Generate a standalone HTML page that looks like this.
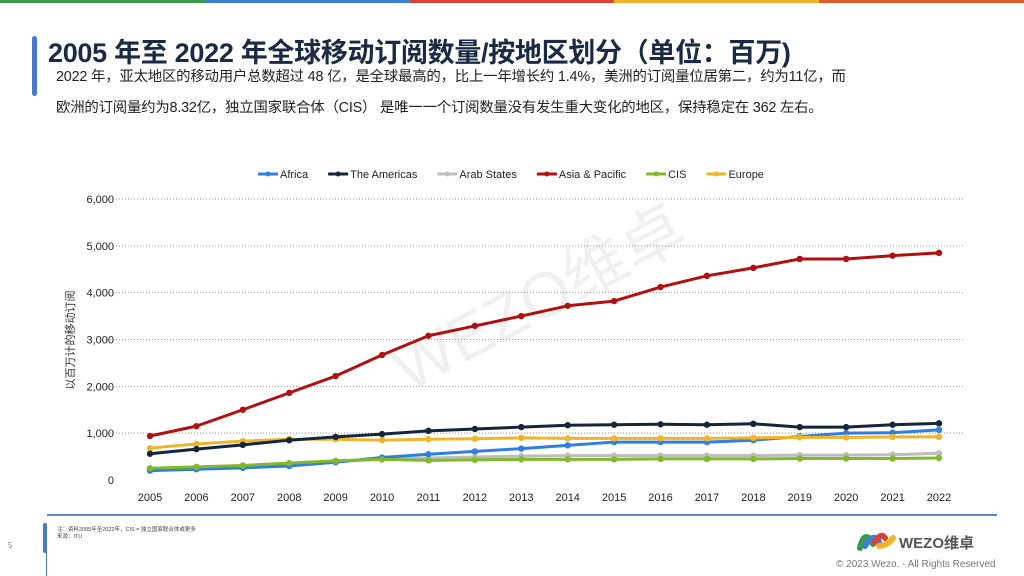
<!DOCTYPE html>
<html><head><meta charset="utf-8"><style>
body{margin:0;width:1024px;height:576px;overflow:hidden;background:#fff;font-family:"Liberation Sans","Noto Sans CJK SC",sans-serif;position:relative}
.abs{position:absolute}
</style></head><body>
<div class="abs" style="left:0;top:0;width:1024px;height:3px;display:flex">
<div style="flex:1;background:#3a9c4b"></div><div style="flex:1;background:#3d7fd0"></div><div style="flex:1;background:#d5433a"></div><div style="flex:1;background:#f0b42a"></div><div style="flex:1;background:#e05b2a"></div></div>
<div class="abs" style="left:32px;top:36px;width:5px;height:60px;background:#4a78d0;border-radius:3px"></div>
<div class="abs" style="left:48px;top:31px;font-size:27px;font-weight:bold;color:#1a2a44;white-space:nowrap;letter-spacing:-0.3px">2005 年至 2022 年全球移动订阅数量/按地区划分（单位：百万)</div>
<div class="abs" style="left:56px;top:62px;font-size:14.4px;color:#222;line-height:31px;white-space:nowrap;letter-spacing:-0.2px">2022 年，亚太地区的移动用户总数超过 48 亿，是全球最高的，比上一年增长约 1.4%，美洲的订阅量位居第二，约为11亿，而<br>欧洲的订阅量约为8.32亿，独立国家联合体（CIS） 是唯一一个订阅数量没有发生重大变化的地区，保持稳定在 362 左右。</div>
<svg class="abs" style="left:0;top:0" width="1024" height="576" id="chart"></svg>
<div class="abs" style="left:47px;top:514px;width:950px;height:2px;background:#5b86d6"></div>
<div class="abs" style="left:43px;top:523px;width:4px;height:30px;background:#4a78d0;border-radius:2px"></div>
<div class="abs" style="left:46px;top:550px;width:1px;height:26px;background:#4a78d0"></div>
<div class="abs" style="left:8px;top:541px;font-size:8px;color:#888">5</div>
<div class="abs" style="left:57px;top:527px;font-size:5.5px;color:#444;line-height:7px">注：资料2005年至2022年，CIS = 独立国家联合体或更多<br>来源：ITU</div>
<div class="abs" style="left:857px;top:530px;width:118px;height:22px">
<svg width="40" height="22"><path d="M3 18 Q6 4 12 8 L16 14" stroke="#3a9c4b" stroke-width="6" fill="none" stroke-linecap="round"/><path d="M8 16 Q16 2 22 12" stroke="#3d7fd0" stroke-width="6" fill="none" stroke-linecap="round"/><path d="M18 12 Q24 2 28 8" stroke="#d5433a" stroke-width="6" fill="none" stroke-linecap="round"/><path d="M22 16 Q30 16 36 8" stroke="#f0b42a" stroke-width="6" fill="none" stroke-linecap="round"/></svg>
<span style="position:absolute;left:42px;top:2px;font-size:15px;font-weight:bold;color:#555">WEZO维卓</span></div>
<div class="abs" style="left:836px;top:559px;font-size:10px;color:#777">© 2023 Wezo. - All Rights Reserved</div>
<script>
const years=[2005,2006,2007,2008,2009,2010,2011,2012,2013,2014,2015,2016,2017,2018,2019,2020,2021,2022];
const yTicks=[0,1000,2000,3000,4000,5000,6000];
const seriesNames=["Africa","The Americas","Arab States","Asia & Pacific","CIS","Europe"];
const africa=[200,230,260,300,380,480,550,610,670,740,810,810,810,850,930,1000,1010,1070];
const americas=[560,660,750,850,920,980,1050,1090,1130,1170,1180,1190,1180,1200,1130,1130,1180,1210];
const arab=[230,260,300,350,400,440,470,490,510,520,520,520,520,520,530,530,540,570];
const asia=[940,1150,1500,1860,2220,2670,3080,3290,3500,3720,3820,4120,4360,4530,4720,4720,4790,4850];
const cis=[250,280,310,360,410,440,420,430,440,440,440,450,450,450,460,460,460,470];
const europe=[680,770,830,870,870,850,870,880,900,890,890,890,890,900,910,910,920,920];
const colors=["#2f7ee0","#14263c","#bdbdbd","#b01010","#82b92a","#f0b429"];
const svg=document.getElementById('chart');const NS="http://www.w3.org/2000/svg";
const X=i=>150+i*(939-150)/(years.length-1);
const Y=v=>480-v*(480-199)/6000;
function mk(t,a){const e=document.createElementNS(NS,t);for(const k in a)e.setAttribute(k,a[k]);svg.appendChild(e);return e;}
const wm=mk('text',{x:540,y:320,'font-size':64,fill:'#000','fill-opacity':0.06,'text-anchor':'middle',transform:'rotate(-28 540 300)'});
wm.textContent="WEZO维卓";


yTicks.forEach(v=>{
 if(v>0){const g=mk('line',{x1:107,x2:965,y1:Y(v),y2:Y(v),stroke:'#999','stroke-dasharray':'1 2','stroke-width':1});
 
 }
 const t=mk('text',{x:114,y:Y(v)+4,'font-size':11,fill:'#222','text-anchor':'end'});t.textContent=v.toLocaleString('en-US');
 
 
});
years.forEach((y,i)=>{const t=mk('text',{x:X(i),y:501,'font-size':11,fill:'#222','text-anchor':'middle'});t.textContent=y;
 
 });
const yt=mk('text',{x:0,y:0,'font-size':11,fill:'#333','text-anchor':'middle',transform:'translate(74 340) rotate(-90)'});yt.textContent="以百万计的移动订阅";


const data=[africa,americas,arab,asia,cis,europe];
const order=[2,0,4,5,1,3];
order.forEach(s=>{
 const pts=data[s].map((v,i)=>X(i)+','+Y(v)).join(' ');
 const p=mk('polyline',{points:pts,fill:'none',stroke:colors[s],'stroke-width':3,'stroke-linejoin':'round'});
 
 
 data[s].forEach((v,i)=>{const c=mk('circle',{cx:X(i),cy:Y(v),r:3.2,fill:colors[s]});
 
 });
});
let lx=258;
seriesNames.forEach((n,s)=>{
 const l=mk('line',{x1:lx,x2:lx+20,y1:174,y2:174,stroke:colors[s],'stroke-width':3});
 
 
 mk('circle',{cx:lx+10,cy:174,r:2.5,fill:colors[s]});
 const t=mk('text',{x:lx+22,y:178,'font-size':11,fill:'#222'});t.textContent=n;
 
 
 lx+=22+t.getComputedTextLength()+20;
});
</script>
</body></html>
